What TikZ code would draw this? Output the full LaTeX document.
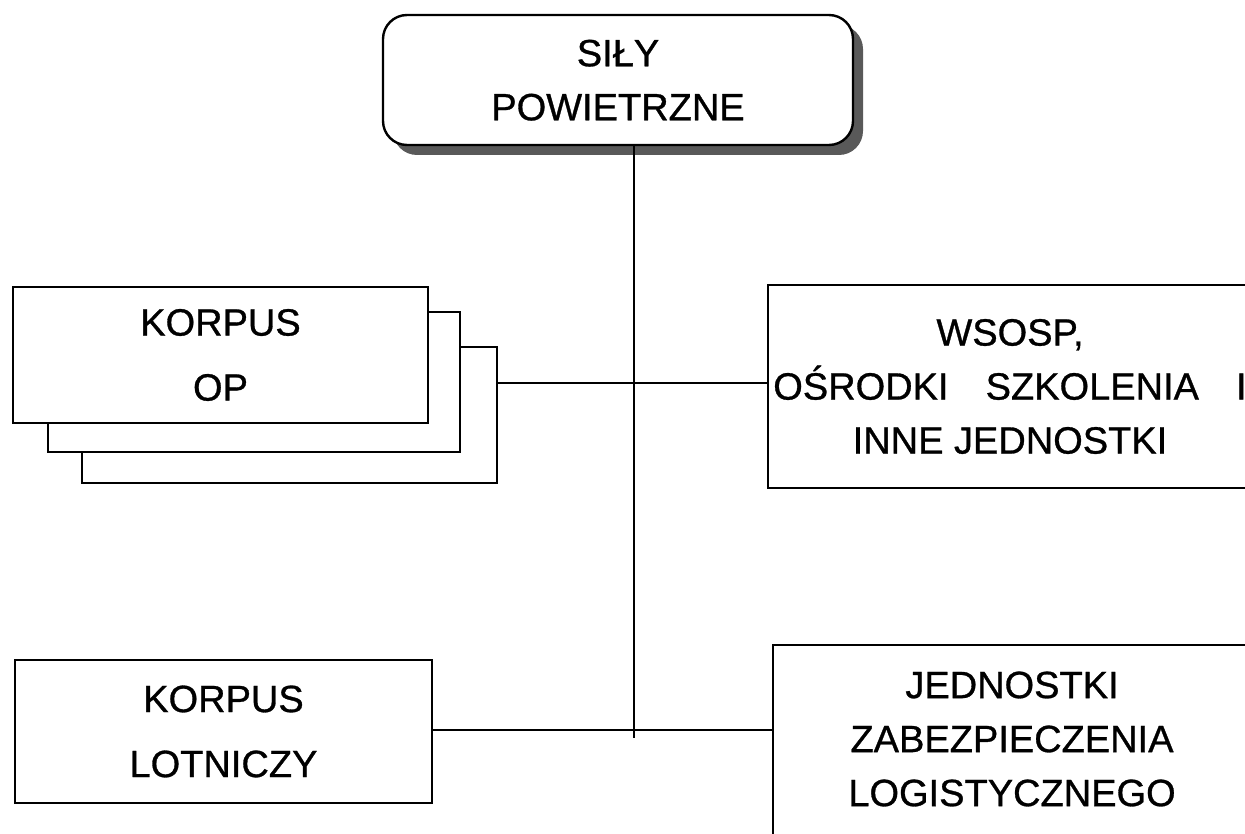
\documentclass[tikz,border=0pt]{standalone}
\usepackage{fontspec}
\setmainfont{Liberation Sans}[FakeBold=0.8]
\usetikzlibrary{shadows}
\begin{document}
\begin{tikzpicture}[x=0.75pt,y=-0.75pt,
  lab/.style={font=\fontsize{28.5pt}{40.5pt}\selectfont, align=center, inner sep=0pt},
  labwide/.style={font=\fontsize{28.5pt}{48.75pt}\selectfont, align=center, inner sep=0pt},
  box/.style={draw=black, line width=1.6pt, fill=white},
  thinbox/.style={draw=black, line width=1.2pt, fill=white},
  conn/.style={draw=black, line width=1.1pt},
  topbox/.style={box, line width=1.8pt, rounded corners=18pt,
     drop shadow={shadow xshift=7.5pt, shadow yshift=-7.5pt, fill=black!65, opacity=1}}
]
\useasboundingbox (0,0) rectangle (1245,834);

% top
\node[topbox, lab, minimum width=352.5pt, minimum height=97.5pt, text depth=-6pt] (top) at (618,80) {SIŁY\\POWIETRZNE};

% KORPUS OP stack
\node[thinbox, minimum width=311.25pt, minimum height=102pt] (op3) at (289.5,415) {};
\node[thinbox, minimum width=309pt, minimum height=105pt] (op2) at (254,382) {};
\node[box, labwide, minimum width=311.25pt, minimum height=102pt] (op1) at (220.5,355) {KORPUS\\OP};

% WSOSP
\node[box, lab, minimum width=363pt, minimum height=152.25pt] (wsosp) at (1010,386.5)
  {WSOSP,\\OŚRODKI\hspace{0.7em} SZKOLENIA\hspace{0.7em} I\\INNE JEDNOSTKI};

% KORPUS LOTNICZY
\node[box, labwide, minimum width=312.75pt, minimum height=107.25pt] (lot) at (223.5,731.5) {KORPUS\\LOTNICZY};

% JEDNOSTKI
\node[box, lab, minimum width=358.5pt, minimum height=144.75pt, text depth=4pt] (jed) at (1012,741.5)
  {JEDNOSTKI\\ZABEZPIECZENIA\\LOGISTYCZNEGO};

% connectors
\coordinate (j1) at (634,383);
\coordinate (j2) at (634,730);
\coordinate (vend) at (634,738);
\draw[conn] (top.south -| j1) -- (vend);
\draw[conn] (op3.east |- j1) -- (wsosp.west |- j1);
\draw[conn] (lot.east |- j2) -- (jed.west |- j2);
\end{tikzpicture}
\end{document}
